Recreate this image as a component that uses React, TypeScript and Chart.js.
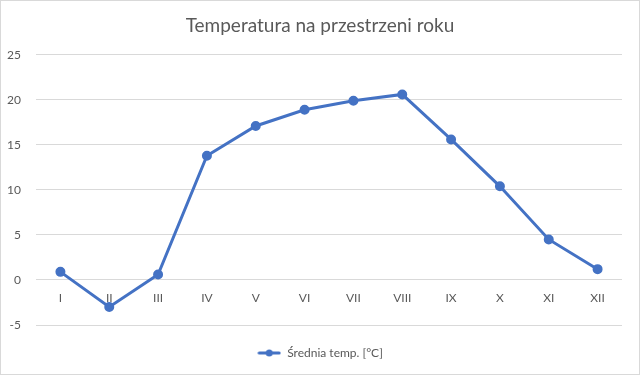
import React, { useEffect, useRef } from "react";
import { Chart, registerables } from "chart.js";

Chart.register(...registerables);

const months = ["I", "II", "III", "IV", "V", "VI", "VII", "VIII", "IX", "X", "XI", "XII"];
const avgTemp = [0.9, -3.0, 0.6, 13.8, 17.1, 18.9, 19.9, 20.6, 15.6, 10.4, 4.5, 1.2];
const seriesLabel = "Średnia temp. [°C]";
const chartTitle = "Temperatura na przestrzeni roku";

const LINE = "#4472C4";
const TEXT = "#595959";
const FONT = "Lato, 'Noto Sans', sans-serif";

function legendIcon(): HTMLCanvasElement {
  const c = document.createElement("canvas");
  c.width = 24;
  c.height = 10;
  const ctx = c.getContext("2d")!;
  ctx.strokeStyle = LINE;
  ctx.lineWidth = 3;
  ctx.lineCap = "round";
  ctx.beginPath();
  ctx.moveTo(2, 5);
  ctx.lineTo(22, 5);
  ctx.stroke();
  ctx.fillStyle = LINE;
  ctx.beginPath();
  ctx.arc(12, 5, 3.5, 0, Math.PI * 2);
  ctx.fill();
  return c;
}

export default function App() {
  const ref = useRef<HTMLCanvasElement>(null);
  useEffect(() => {
    document.body.style.margin = "0";
    const icon = legendIcon();
    const chart = new Chart(ref.current!, {
      type: "line",
      data: {
        labels: months,
        datasets: [
          {
            label: seriesLabel,
            data: avgTemp,
            borderColor: LINE,
            backgroundColor: LINE,
            borderWidth: 3,
            pointRadius: 3.5,
            pointBackgroundColor: LINE,
            pointBorderColor: LINE,
            tension: 0,
            yAxisID: "y",
          },
        ],
      },
      options: {
        animation: false,
        responsive: false,
        layout: { padding: { top: 4, right: 0, bottom: 5, left: 0 } },
        plugins: {
          title: {
            display: true,
            text: chartTitle,
            color: TEXT,
            font: { family: FONT, size: 19, weight: "normal" },
            padding: { top: 9, bottom: 18 },
          },
          legend: {
            position: "bottom",
            labels: {
              color: TEXT,
              font: { family: FONT, size: 12 },
              usePointStyle: true,
              pointStyleWidth: 24,
              padding: 22,
              generateLabels: (ch: any) => [
                {
                  text: seriesLabel,
                  fillStyle: LINE,
                  strokeStyle: LINE,
                  lineWidth: 0,
                  pointStyle: icon,
                  hidden: false,
                  datasetIndex: 0,
                  fontColor: TEXT,
                },
              ],
            },
          },
          tooltip: { enabled: false },
        },
        scales: {
          x: {
            position: { y: 0 } as any,
            offset: true,
            grid: { display: false, drawTicks: false },
            border: { display: false },
            ticks: { color: TEXT, font: { family: FONT, size: 12 }, padding: 11 },
          },
          y: {
            min: -5,
            max: 25,
            ticks: { stepSize: 5, color: TEXT, font: { family: FONT, size: 12 }, padding: 15 },
            grid: { color: "#d9d9d9", drawTicks: false, lineWidth: 1 },
            border: { display: false },
            afterFit: (s: any) => {
              s.width = 35;
            },
          },
          yRight: {
            position: "right",
            min: -5,
            max: 25,
            grid: { display: false, drawTicks: false },
            border: { display: false },
            ticks: { display: false },
            afterFit: (s: any) => {
              s.width = 17;
            },
          },
        },
      },
    });
    return () => chart.destroy();
  }, []);
  return (
    <div
      style={{
        width: 640,
        height: 375,
        boxSizing: "border-box",
        border: "1px solid #d9d9d9",
        background: "#fff",
      }}
    >
      <canvas ref={ref} width={638} height={373} style={{ display: "block" }} />
    </div>
  );
}
